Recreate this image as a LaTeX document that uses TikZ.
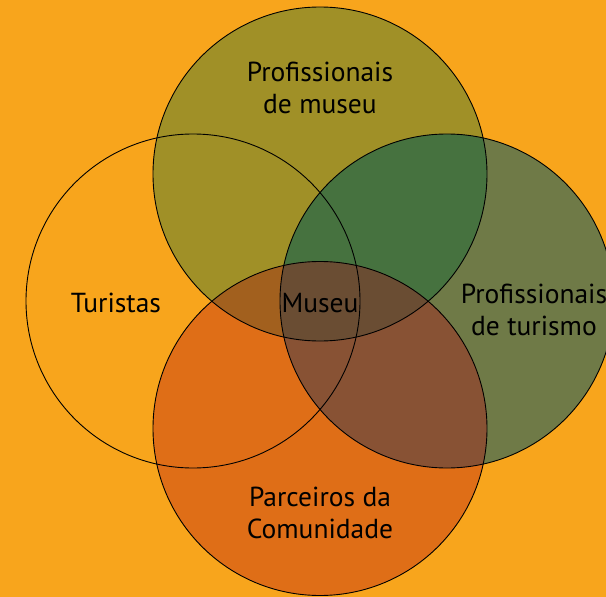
\documentclass[tikz,border=0pt]{standalone}
\usepackage{fontspec}
\setmainfont{PT Sans}
\definecolor{bgc}{HTML}{F8A51C}
\definecolor{topc}{HTML}{A09027}
\definecolor{rightc}{HTML}{6F7A47}
\definecolor{botc}{HTML}{DF6E17}
\definecolor{trc}{HTML}{46723F}
\definecolor{brc}{HTML}{885234}
\definecolor{tbc}{HTML}{A2601E}
\definecolor{midc}{HTML}{6A4D33}
\begin{document}
\begin{tikzpicture}[x=1pt,y=-1pt,
  ring/.style={draw=black,line width=0.9pt},
  lbl/.style={font=\fontsize{27.5}{32}\selectfont,align=center,text=black,inner sep=0pt}]
\useasboundingbox (0,0) rectangle (606,597);
\fill[bgc] (0,0) rectangle (606,597);
\def\R{167}
\coordinate (T) at (320,174);
\coordinate (B) at (320,428.5);
\coordinate (L) at (193,301);
\coordinate (Rr) at (447,301);
% fills
\fill[topc] (T) circle (\R);
\fill[rightc] (Rr) circle (\R);
\fill[botc] (B) circle (\R);
\begin{scope}
  \clip (T) circle (\R);
  \fill[trc] (Rr) circle (\R);
  \fill[tbc] (B) circle (\R);
  \clip (Rr) circle (\R);
  \fill[midc] (B) circle (\R);
\end{scope}
\begin{scope}
  \clip (Rr) circle (\R);
  \clip (B) circle (\R);
  \clip (0,0) rectangle (606,597);
  \fill[brc] (B) circle (\R);
  \fill[midc] (T) circle (\R);
\end{scope}
% outlines
\draw[ring] (T) circle (\R);
\draw[ring] (L) circle (\R);
\draw[ring] (Rr) circle (\R);
\draw[ring] (B) circle (\R);
% labels
\node[lbl] (tm) at (320,88) {Profissionais\\de museu};
\node[lbl] (tu) at (116,303) {Turistas};
\node[lbl] (mu) at (320,303) {Museu};
\node[lbl] (pt) at (534,310) {Profissionais\\de turismo};
\node[lbl] (pc) at (320,513) {Parceiros da\\Comunidade};
\end{tikzpicture}
\end{document}
